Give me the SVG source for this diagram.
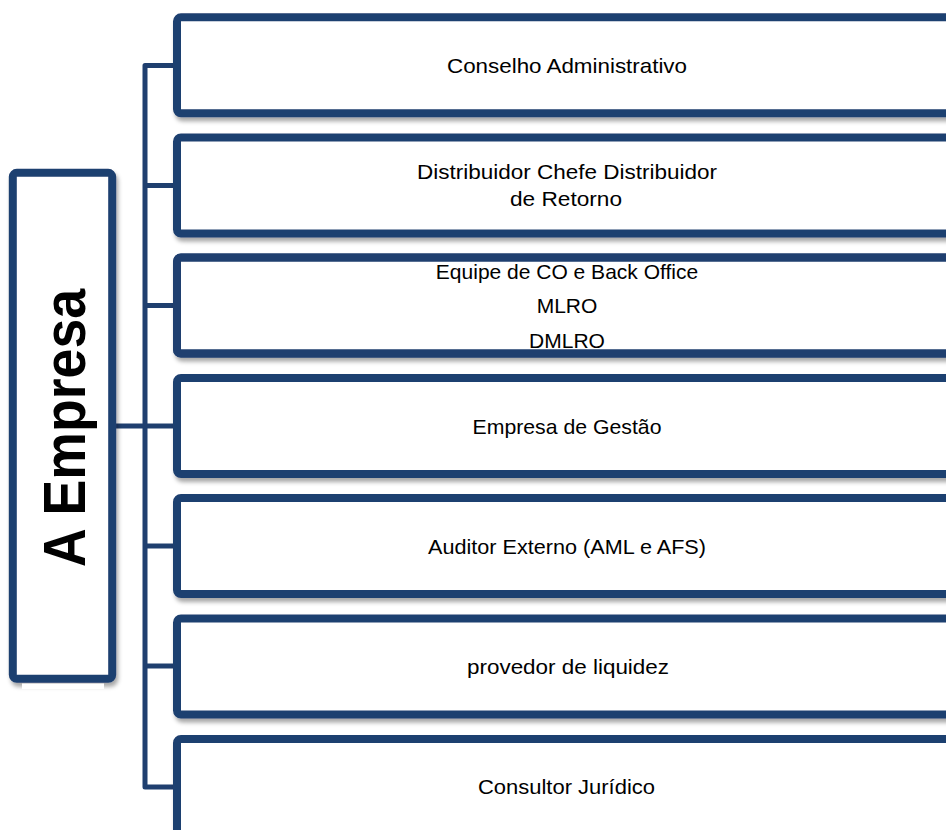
<svg xmlns="http://www.w3.org/2000/svg" width="946" height="830" viewBox="0 0 946 830">
  <defs>
    <filter id="sh" x="-10%" y="-10%" width="130%" height="130%">
      <feDropShadow dx="2" dy="4" stdDeviation="2" flood-color="#000" flood-opacity="0.35"/>
    </filter>
    <style>
      .box{fill:#fff;stroke:#1f3f6f;stroke-width:8;filter:url(#sh)}
      .edge{fill:none;stroke:#1f3f6f;stroke-width:8}
      .conn{fill:none;stroke:#1f3f6f;stroke-width:5;stroke-linejoin:round}
      .lbl{font-family:"Liberation Sans",Arial,sans-serif;font-size:21px;fill:#000;text-anchor:middle}
      .title{font-family:"Liberation Sans",Arial,sans-serif;font-size:60px;font-weight:bold;fill:#000;text-anchor:middle}
    </style>
  </defs>
  <rect width="946" height="830" fill="#fff"/>

  <g id="connectors">
    <path class="conn" d="M177,65.5 H145 V787 H177"/>
    <path class="conn" d="M145,185.5 H177"/>
    <path class="conn" d="M145,305.5 H177"/>
    <path class="conn" d="M145,426 H177"/>
    <path class="conn" d="M145,546 H177"/>
    <path class="conn" d="M145,666 H177"/>
    <path class="conn" d="M112,426 H145"/>
  </g>

  <g id="empresa">
    <rect class="box" x="12.8" y="172.8" width="99.4" height="506" rx="4"/>
    <rect x="22" y="683.5" width="82" height="5.5" fill="#fff"/>
    <text class="title" transform="translate(85,428) rotate(-90)" x="0" y="0" textLength="278" lengthAdjust="spacingAndGlyphs">A Empresa</text>
  </g>

  <g id="n1">
    <rect class="box" x="177" y="17.3" width="800" height="96" rx="4"/>
    <text class="lbl" x="567" y="73" textLength="240" lengthAdjust="spacingAndGlyphs">Conselho Administrativo</text>
  </g>
  <g id="n2">
    <rect class="box" x="177" y="137.5" width="800" height="96" rx="4"/>
    <text class="lbl" x="567" y="179" textLength="300" lengthAdjust="spacingAndGlyphs">Distribuidor Chefe Distribuidor</text>
    <text class="lbl" x="566" y="206" textLength="112" lengthAdjust="spacingAndGlyphs">de Retorno</text>
  </g>
  <g id="n3">
    <rect class="box" x="177" y="257.5" width="800" height="96" rx="4"/>
    <text class="lbl" x="567" y="279">Equipe de CO e Back Office</text>
    <text class="lbl" x="567" y="313">MLRO</text>
    <text class="lbl" x="567" y="347.5">DMLRO</text>
    <rect class="edge" x="177" y="257.5" width="800" height="96" rx="4"/>
  </g>
  <g id="n4">
    <rect class="box" x="177" y="378" width="800" height="96" rx="4"/>
    <text class="lbl" x="567" y="434" textLength="189" lengthAdjust="spacingAndGlyphs">Empresa de Gestão</text>
  </g>
  <g id="n5">
    <rect class="box" x="177" y="498" width="800" height="96" rx="4"/>
    <text class="lbl" x="567" y="554" textLength="278" lengthAdjust="spacingAndGlyphs">Auditor Externo (AML e AFS)</text>
  </g>
  <g id="n6">
    <rect class="box" x="177" y="618.5" width="800" height="96" rx="4"/>
    <text class="lbl" x="568" y="674" textLength="202" lengthAdjust="spacingAndGlyphs">provedor de liquidez</text>
  </g>
  <g id="n7">
    <rect class="box" x="177" y="739" width="800" height="96" rx="4"/>
    <text class="lbl" x="566.5" y="794" textLength="177" lengthAdjust="spacingAndGlyphs">Consultor Jurídico</text>
  </g>
</svg>
